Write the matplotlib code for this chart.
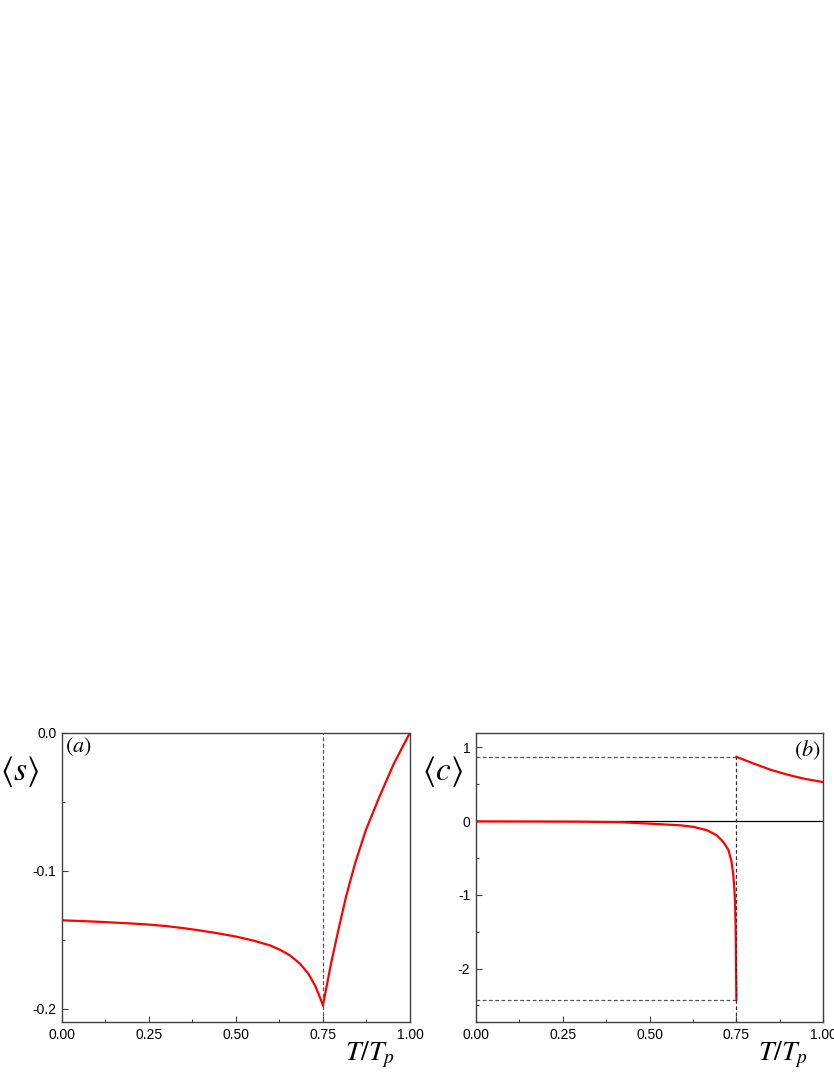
import numpy as np
import matplotlib
matplotlib.use("Agg")
import matplotlib.pyplot as plt
from matplotlib.ticker import FixedLocator, FormatStrFormatter

plt.rcParams["font.family"] = ["Liberation Sans", "DejaVu Sans"]
plt.rcParams["mathtext.fontset"] = "stix"
plt.rcParams["axes.unicode_minus"] = False

# Panel (a): <s> vs T/Tp
t_s_low = [0.0, 0.1, 0.2, 0.25, 0.3, 0.35, 0.4, 0.454, 0.5, 0.55, 0.598,
           0.626, 0.655, 0.684, 0.708, 0.727, 0.739, 0.746, 0.75]
s_low = [-0.136, -0.137, -0.1383, -0.1391, -0.1402, -0.1417, -0.1435, -0.1457,
         -0.1478, -0.1507, -0.1542, -0.1573, -0.1614, -0.1675, -0.1747, -0.1832,
         -0.1905, -0.1950, -0.1976]
t_s_high = [0.75, 0.773, 0.794, 0.816, 0.842, 0.873, 0.912, 0.954, 1.0]
s_high = [-0.1976, -0.1675, -0.1433, -0.1191, -0.0949, -0.0707, -0.0465, -0.0222, 0.0]

# Panel (b): <c> vs T/Tp
t_c_low = [0.0, 0.1, 0.2, 0.3, 0.415, 0.511, 0.588, 0.626, 0.665, 0.693, 0.712,
           0.727, 0.736, 0.741, 0.744, 0.746, 0.748, 0.749, 0.75]
c_low = [-0.003, -0.004, -0.005, -0.007, -0.014, -0.036, -0.056, -0.077, -0.122,
         -0.19, -0.28, -0.39, -0.55, -0.73, -0.91, -1.09, -1.5, -2.0, -2.42]
t_c_high = [0.75, 0.799, 0.847, 0.895, 0.942, 1.0]
c_high = [0.873, 0.783, 0.70, 0.633, 0.579, 0.53]

t_crit = 0.75
x_major = [0.0, 0.25, 0.5, 0.75, 1.0]
x_minor = [0.125, 0.375, 0.625, 0.875]

fig = plt.figure(figsize=(8.34, 10.79), dpi=100)
ax_a = fig.add_axes([0.0743, 0.0525, 0.4173, 0.2684])
ax_b = fig.add_axes([0.5704, 0.0525, 0.4168, 0.2684])

red = "#ff0000"
spine_col = "#404040"


def style_axes(ax):
    for sp in ax.spines.values():
        sp.set_color(spine_col)
        sp.set_linewidth(1.0)
    ax.xaxis.set_major_locator(FixedLocator(x_major))
    ax.xaxis.set_minor_locator(FixedLocator(x_minor))
    ax.xaxis.set_major_formatter(FormatStrFormatter("%.2f"))
    ax.tick_params(which="both", direction="in", top=False, right=False,
                   color=spine_col, labelsize=10, pad=4)
    ax.tick_params(which="major", length=4, width=0.8)
    ax.tick_params(which="minor", length=2.5, width=0.8)
    ax.set_xlim(0, 1)
    ax.text(0.885, -0.06, r"$T/T_p$", transform=ax.transAxes, fontsize=20,
            ha="center", va="top")


# panel a
ax_a.plot(t_s_low, s_low, color=red, lw=1.6)
ax_a.plot(t_s_high, s_high, color=red, lw=1.6)
ax_a.axvline(t_crit, color="#555555", lw=0.9, ls=(0, (3, 2)))
ax_a.set_ylim(-0.21, 0.0)
ax_a.yaxis.set_major_locator(FixedLocator([-0.2, -0.1, 0.0]))
ax_a.yaxis.set_minor_locator(FixedLocator([-0.15, -0.05]))
ax_a.yaxis.set_major_formatter(FormatStrFormatter("%.1f"))
style_axes(ax_a)
ax_a.text(0.009, 0.99, r"$(a)$", transform=ax_a.transAxes, fontsize=16,
          ha="left", va="top")
fig.text(0.024, 0.2854, r"$\langle s\rangle$", fontsize=24, ha="center", va="center")

# panel b
ax_b.axhline(0, color="black", lw=0.9)
ax_b.plot(t_c_low, c_low, color=red, lw=1.6)
ax_b.plot(t_c_high, c_high, color=red, lw=1.6)
ax_b.plot([0, t_crit], [c_high[0], c_high[0]], color="#555555", lw=0.9, ls=(0, (3, 2)))
ax_b.plot([0, t_crit], [c_low[-1], c_low[-1]], color="#555555", lw=0.9, ls=(0, (3, 2)))
ax_b.plot([t_crit, t_crit], [-2.73, c_high[0]], color="#333333", lw=0.9, ls=(0, (3, 2)))
ax_b.set_ylim(-2.73, 1.2)
ax_b.yaxis.set_major_locator(FixedLocator([-2, -1, 0, 1]))
ax_b.yaxis.set_minor_locator(FixedLocator([-2.5, -1.5, -0.5, 0.5]))
ax_b.yaxis.set_major_formatter(FormatStrFormatter("%d"))
style_axes(ax_b)
ax_b.text(0.993, 0.98, r"$(b)$", transform=ax_b.transAxes, fontsize=16,
          ha="right", va="top")
fig.text(0.531, 0.2854, r"$\langle c\rangle$", fontsize=24, ha="center", va="center")

fig.savefig("out.png", dpi=100, facecolor="white")
